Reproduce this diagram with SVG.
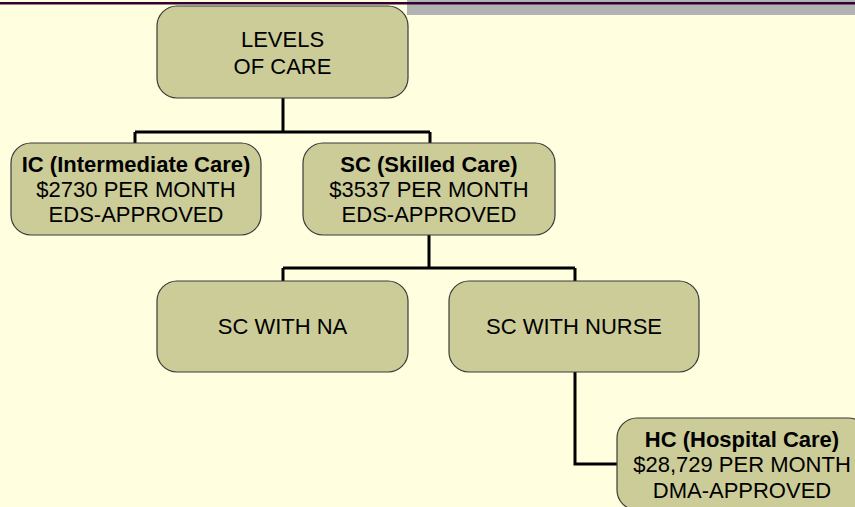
<svg xmlns="http://www.w3.org/2000/svg" width="855" height="507" viewBox="0 0 855 507">
<style>
.node rect{fill:#CCCC99;stroke:#3a3a3a;stroke-width:1.2}
.node text{font-family:"Liberation Sans",Arial,sans-serif;font-size:22px;fill:#000;text-anchor:middle}
.b{font-weight:bold}
.conn path{fill:none;stroke:#000;stroke-width:3}
</style>
<rect x="0" y="0" width="855" height="507" fill="#FFFFE0"/>
<rect x="407" y="0" width="448" height="15" fill="#B2B2B2"/>
<rect x="0" y="2" width="855" height="2.5" fill="#330033"/>
<g id="connectors" class="conn">
<path d="M283 98 V132 M135 132 H430 M135 132 V143 M430 132 V143"/>
<path d="M429 235 V268 M283 268 H575 M283 268 V281 M575 268 V281"/>
<path d="M575 372 V464 H617"/>
</g>
<g id="root" class="node">
<rect x="157" y="6" width="251" height="92" rx="20"/>
<text x="282.5" y="47">LEVELS</text>
<text x="282.5" y="74">OF CARE</text>
</g>
<g id="ic" class="node">
<rect x="11" y="143" width="250" height="92" rx="20"/>
<text x="136" y="172" class="b">IC (Intermediate Care)</text>
<text x="136" y="197">$2730 PER MONTH</text>
<text x="136" y="222">EDS-APPROVED</text>
</g>
<g id="sc" class="node">
<rect x="303" y="143" width="252" height="92" rx="20"/>
<text x="429" y="172" class="b">SC (Skilled Care)</text>
<text x="429" y="197">$3537 PER MONTH</text>
<text x="429" y="222">EDS-APPROVED</text>
</g>
<g id="sc-na" class="node">
<rect x="157" y="281" width="251" height="91" rx="20"/>
<text x="282.5" y="334">SC WITH NA</text>
</g>
<g id="sc-nurse" class="node">
<rect x="449" y="281" width="250" height="91" rx="20"/>
<text x="574" y="334">SC WITH NURSE</text>
</g>
<g id="hc" class="node">
<rect x="617" y="418" width="251" height="92" rx="20"/>
<text x="742" y="447" class="b">HC (Hospital Care)</text>
<text x="742" y="472">$28,729 PER MONTH</text>
<text x="742" y="498">DMA-APPROVED</text>
</g>
</svg>
